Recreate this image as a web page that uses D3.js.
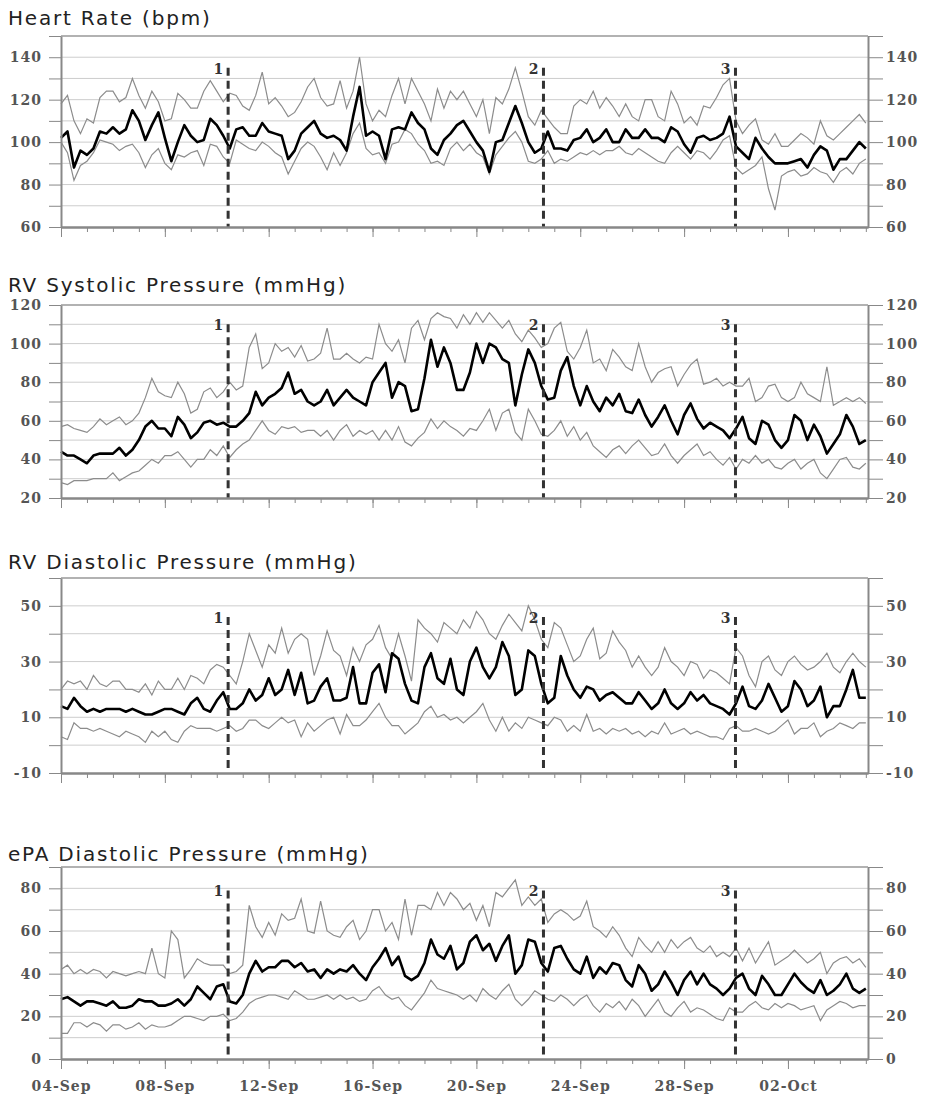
<!DOCTYPE html>
<html>
<head>
<meta charset="utf-8">
<script src="https://cdn.jsdelivr.net/npm/d3@7"></script>
<style>
    body { margin: 0; background: #fff; }
    .title { font-family: "DejaVu Sans", Verdana, sans-serif; font-size: 20px; fill: #222; letter-spacing: 1.8px; }
    .axis text { font-family: "DejaVu Serif", serif; font-weight: bold; font-size: 14px; fill: #555; letter-spacing: 1px; }
    .axis path, .axis line { stroke: #888; }
    .axis path { stroke-width: 2px; }
    .grid line { stroke: #cdcdcd; stroke-width: 1px; }
    .band { fill: none; stroke: #8c8c8c; stroke-width: 1.2px; }
    .median { fill: none; stroke: #000; stroke-width: 2.6px; stroke-linejoin: round; }
    .marker { stroke: #333; stroke-width: 3px; stroke-dasharray: 8,5; }
    .marker-label { font-family: "DejaVu Serif", serif; font-weight: bold; font-size: 14px; fill: #333; }
</style>
</head>
<body>
<div id="chart"></div>
<script>

// sampling of all series: every 6 hours from 04-Sep
const startDate = "2009-09-04 00:00";
const endDate = "2009-10-05 02:00";
const stepHours = 6;

// event markers
const markerDates = ["2009-09-10 10:30", "2009-09-22 14:00", "2009-09-29 23:30"];
const markerLabels = ["1", "2", "3"];

// panel titles
const panelTitles = ["Heart Rate (bpm)", "RV Systolic Pressure (mmHg)", "RV Diastolic Pressure (mmHg)", "ePA Diastolic Pressure (mmHg)"];

// heart rate
const hrUpper = [118,122,110,104,111,109,121,124,124,119, 121,130,122,116,124,119,110,111,123,120,
    116,116,124,129,124,119,123,122,117,115, 122,133,118,121,117,112,114,119,126,130,
    121,117,118,129,116,124,140,118,110,115, 112,122,130,118,130,124,118,110,125,116, 124,
    120,124,118,112,120,104,121,118,125, 135,124,112,108,115,111,107,104,104,117,
    120,118,124,116,121,117,112,118,112,110, 120,120,112,110,124,118,109,112,108,117,
    116,121,127,130,110,104,108,111,101,99, 104,98,98,101,104,102,99,110,103,101, 104,107,110,113,109];
const hrMedian = [102,105,88,96,94,97,105,104,107,104, 106,115,110,101,108,114,102,91,100,108,
    103,100,101,111,108,103,97,106,107,103, 103,109,105,104,103,92,96,104,107,110,
    104,102,103,101,96,112,126,103,105,103, 92,106,107,106,114,109,106,97,94,101, 104,
    108,110,105,100,96,86,100,101,109, 117,109,100,95,97,105,97,97,96,101,
    102,106,100,102,106,100,100,106,102,102, 106,102,102,100,107,105,99,95,102,103,
    101,102,104,112,98,95,92,102,97,93, 90,90,90,91,92,88,94,98,96,87, 92,92,96,100,97];
const hrLower = [100,95,82,89,91,95,101,100,99,96, 98,99,95,88,94,97,90,87,94,93,
    95,96,89,99,98,93,90,101,99,97, 96,100,98,95,93,85,91,97,100,98,
    93,87,95,89,95,104,109,97,94,95, 90,99,100,106,104,99,96,90,91,89, 97,
    100,96,99,95,93,85,94,98,102, 105,100,91,90,92,96,90,92,91,93,
    95,94,96,94,96,96,98,95,94,97, 95,93,91,90,95,98,95,92,96,95,
    92,96,101,103,88,85,87,89,93,78, 68,84,86,87,84,85,88,86,85,81, 86,88,85,90,92];

// rv systolic pressure
const rvsUpper = [57,58,56,55,54,57,61,58,60,62, 58,60,64,72,82,75,73,72,80,74,
    64,66,75,77,72,75,80,76,78,98, 105,87,90,100,96,98,93,99,91,92,
    95,108,92,92,95,92,90,93,92,110, 100,96,102,90,108,112,102,113,116,114, 113,
    108,115,110,116,111,116,112,108,112, 105,101,107,103,98,100,108,111,96,92,
    98,107,90,92,86,97,93,88,86,100, 88,80,85,87,88,78,84,89,92,79,
    80,82,78,80,78,78,82,70,72,78, 79,72,70,72,80,74,72,70,88,68, 70,72,70,72,69];
const rvsMedian = [44,42,42,40,38,42,43,43,43,46, 42,45,50,57,60,56,56,52,62,58,
    51,54,59,60,58,59,57,57,60,64, 75,68,72,74,77,85,74,76,70,68,
    70,76,68,72,76,72,70,68,80,85, 90,72,80,78,65,66,82,102,88,98, 90,
    76,76,85,100,90,100,98,92,90, 68,84,97,90,78,71,72,86,93,78,
    68,78,70,65,72,68,74,65,64,71, 63,57,62,68,60,53,63,69,61,56,
    59,57,55,51,56,62,51,48,60,58, 50,46,50,63,60,50,58,52,43,48, 53,63,57,48,50];
const rvsLower = [28,27,29,29,29,30,30,30,33,29, 31,33,34,37,40,38,42,42,44,40,
    36,40,40,45,42,47,41,45,48,50, 55,60,55,53,57,56,57,54,55,55,
    52,55,50,55,58,52,55,53,55,50, 55,50,57,49,47,51,54,61,56,60, 57,
    55,52,56,55,60,66,55,64,66, 54,50,66,60,53,52,55,60,52,57,
    50,54,47,44,41,45,47,43,47,50, 46,42,43,48,42,38,42,45,48,42,
    44,40,37,41,35,40,38,42,38,40, 36,35,38,40,35,38,40,33,30,35, 40,41,36,35,38];

// rv diastolic pressure
const rvdUpper = [20,23,22,23,20,25,22,21,23,23, 20,20,19,22,18,23,20,20,24,20,
    25,24,22,27,29,28,25,22,30,40, 34,28,36,33,42,33,38,40,38,25,
    32,41,34,32,25,35,30,36,38,43, 35,31,40,32,23,45,42,40,37,44, 42,
    40,45,42,48,45,40,38,43,47, 44,41,50,45,38,35,44,42,36,30,
    32,38,42,31,33,41,37,34,28,32, 28,25,28,35,30,28,25,30,29,24,
    27,26,24,22,35,32,25,21,30,32, 27,25,30,32,29,27,28,30,33,28, 26,30,33,30,28];
const rvdMedian = [14,13,17,14,12,13,12,13,13,13, 12,13,12,11,11,12,13,13,12,11,
    15,17,13,12,16,19,13,13,15,20, 16,18,24,18,20,27,18,26,15,16,
    21,24,16,16,17,28,15,15,26,29, 19,33,31,22,16,15,28,33,24,22, 31,
    20,18,30,35,28,24,28,37,32, 18,20,34,32,22,15,17,32,25,20,
    17,21,20,16,18,19,17,15,15,19, 16,13,15,20,15,13,15,19,16,18,
    15,14,13,11,15,21,14,13,16,22, 17,12,14,23,20,14,16,21,10,14, 14,20,27,17,17];
const rvdLower = [3,2,8,6,6,5,6,5,4,3, 5,4,3,1,5,3,5,2,1,5,
    7,6,6,6,5,6,7,5,6,9, 9,7,6,8,10,8,9,3,8,5,
    7,9,10,4,11,7,7,9,12,15, 10,7,7,4,6,8,12,14,10,11, 9,
    10,8,10,12,15,9,5,10,5, 8,6,10,9,8,7,10,9,5,7,
    5,11,5,6,4,6,5,6,4,5, 3,5,4,8,4,5,6,4,5,4,
    3,3,2,6,7,5,5,6,5,4, 5,7,9,4,6,6,8,3,5,6, 8,7,6,8,8];

// epa diastolic pressure
const epaUpper = [42,44,40,42,40,42,41,38,41,40, 39,40,41,40,52,40,38,60,56,38,
    42,47,45,44,44,44,40,41,44,72, 62,57,64,58,68,65,66,75,60,59,
    74,60,58,57,62,65,56,60,70,70, 60,64,56,75,58,72,72,70,78,72, 78,
    75,70,73,65,72,62,78,76,80, 84,72,76,72,75,64,68,70,68,65,
    67,74,62,60,57,62,58,52,48,57, 53,50,55,50,56,52,55,57,52,50,
    53,48,50,48,52,46,52,45,50,55, 44,46,48,51,48,45,47,50,40,45, 47,48,45,47,43];
const epaMedian = [28,29,27,25,27,27,26,25,27,24, 24,25,28,27,27,25,25,26,28,25,
    28,34,31,28,34,35,27,26,30,40, 46,41,43,43,46,46,43,45,41,42,
    38,42,40,42,41,44,40,37,43,47, 52,44,48,39,37,39,45,56,49,47, 53,
    42,45,55,58,51,54,46,53,58, 40,44,56,55,45,41,52,53,47,42,
    40,48,38,43,40,45,44,37,34,44, 40,32,35,41,36,30,37,41,35,40,
    35,33,30,33,38,40,33,30,39,35, 30,30,35,40,36,33,31,37,30,32, 35,40,33,31,33];
const epaLower = [12,12,17,17,15,17,16,13,16,16, 14,15,17,14,16,15,15,16,18,20,
    20,19,18,20,20,21,18,19,22,26, 28,29,30,30,29,28,32,30,28,28,
    29,30,28,30,28,29,27,28,32,34, 30,28,29,25,23,27,31,37,33,32, 31,
    30,28,30,27,33,30,28,32,35, 28,25,28,32,30,28,27,30,28,25,
    28,30,25,22,26,24,27,23,28,25, 20,24,28,22,20,24,27,22,24,23,
    21,19,18,24,22,22,25,27,24,23, 26,24,26,25,23,24,25,18,23,25, 27,26,24,25,25];

const parseTime = d3.timeParse("%Y-%m-%d %H:%M");
const formatDay = d3.timeFormat("%d-%b");


/* * * * * * * * * * * * * *
*        TrendPanel        *
* * * * * * * * * * * * * */

class TrendPanel {

    constructor(svg, config) {
        this.svg = svg;
        this.config = config;
        this.initVis();
    }

    initVis() {
        let vis = this;
        let c = vis.config;

        vis.left = 61;
        vis.right = 868;
        vis.height = c.bottom - c.top;

        vis.g = vis.svg.append("g")
            .attr("transform", "translate(0," + c.top + ")");

        vis.x = d3.scaleTime()
            .domain([parseTime(startDate), parseTime(endDate)])
            .range([vis.left, vis.right]);

        vis.y = d3.scaleLinear()
            .domain(c.yDomain)
            .range([vis.height, 0]);

        // title
        vis.svg.append("text")
            .attr("class", "title")
            .attr("x", 8)
            .attr("y", c.titleY)
            .text(c.title);

        // horizontal gridlines every 10
        vis.g.append("g")
            .attr("class", "grid")
            .selectAll("line")
            .data(d3.range(c.yDomain[0] + 10, c.yDomain[1], 10))
            .join("line")
            .attr("x1", vis.left)
            .attr("x2", vis.right)
            .attr("y1", d => vis.y(d))
            .attr("y2", d => vis.y(d));

        // top border
        vis.g.append("line")
            .attr("x1", vis.left)
            .attr("x2", vis.right)
            .attr("y1", 0)
            .attr("y2", 0)
            .attr("stroke", "#999")
            .attr("stroke-width", 1.5);

        vis.lineGroup = vis.g.append("g");
        vis.markerGroup = vis.g.append("g");

        let yTicks = d3.range(c.yDomain[0], c.yDomain[1] + 1, 10);
        let yFormat = d => ((d - c.yDomain[0]) % 20 === 0 ? d : "");

        // left + right axes
        vis.g.append("g")
            .attr("class", "axis")
            .attr("transform", "translate(" + vis.left + ",0)")
            .call(d3.axisLeft(vis.y).tickValues(yTicks).tickFormat(yFormat)
                .tickSize(12).tickSizeOuter(0).tickPadding(7));

        vis.g.append("g")
            .attr("class", "axis")
            .attr("transform", "translate(" + vis.right + ",0)")
            .call(d3.axisRight(vis.y).tickValues(yTicks).tickFormat(yFormat)
                .tickSize(15).tickSizeOuter(0).tickPadding(3));

        // x axis: a tick per day, longer ticks every 4 days
        let start = parseTime(startDate);
        let stop = parseTime(endDate);

        vis.g.append("g")
            .attr("class", "axis")
            .attr("transform", "translate(0," + vis.height + ")")
            .call(d3.axisBottom(vis.x).tickValues(d3.timeDay.range(start, stop))
                .tickFormat("").tickSize(5).tickSizeOuter(0));

        vis.g.append("g")
            .attr("class", "axis")
            .attr("transform", "translate(0," + vis.height + ")")
            .call(d3.axisBottom(vis.x).tickValues(d3.timeDay.range(start, stop, 4))
                .tickFormat(c.showDates ? formatDay : "")
                .tickSize(10).tickSizeOuter(0).tickPadding(12));

        vis.wrangleData();
    }

    wrangleData() {
        let vis = this;
        let c = vis.config;
        let start = parseTime(startDate);

        let toPoints = arr => arr.map((v, i) => ({
            date: d3.timeHour.offset(start, i * stepHours),
            value: v
        }));

        vis.displayData = [
            { cls: "band", points: toPoints(c.upper) },
            { cls: "band", points: toPoints(c.lower) },
            { cls: "median", points: toPoints(c.median) }
        ];

        vis.markers = markerDates.map((d, i) => ({ date: parseTime(d), label: markerLabels[i] }));

        vis.updateVis();
    }

    updateVis() {
        let vis = this;

        let line = d3.line()
            .x(d => vis.x(d.date))
            .y(d => vis.y(d.value));

        vis.lineGroup.selectAll("path")
            .data(vis.displayData)
            .join("path")
            .attr("class", d => d.cls)
            .attr("d", d => line(d.points));

        // dashed event markers
        let yTop = vis.y(vis.config.markerTop);

        vis.markerGroup.selectAll("line")
            .data(vis.markers)
            .join("line")
            .attr("class", "marker")
            .attr("x1", d => vis.x(d.date))
            .attr("x2", d => vis.x(d.date))
            .attr("y1", yTop)
            .attr("y2", vis.height);

        vis.markerGroup.selectAll("text")
            .data(vis.markers)
            .join("text")
            .attr("class", "marker-label")
            .attr("x", d => vis.x(d.date) - 5)
            .attr("y", yTop + 6)
            .attr("text-anchor", "end")
            .text(d => d.label);
    }
}


let svg = d3.select("#chart").append("svg")
    .attr("width", 926)
    .attr("height", 1099)
    .style("background", "#fff");

let panels = [
    { title: panelTitles[0], titleY: 25, top: 36, bottom: 227, yDomain: [60, 150], markerTop: 135,
      upper: hrUpper, median: hrMedian, lower: hrLower, showDates: false },
    { title: panelTitles[1], titleY: 292, top: 305, bottom: 498, yDomain: [20, 120], markerTop: 110,
      upper: rvsUpper, median: rvsMedian, lower: rvsLower, showDates: false },
    { title: panelTitles[2], titleY: 569, top: 578, bottom: 773, yDomain: [-10, 60], markerTop: 46,
      upper: rvdUpper, median: rvdMedian, lower: rvdLower, showDates: false },
    { title: panelTitles[3], titleY: 861, top: 867, bottom: 1059, yDomain: [0, 90], markerTop: 79,
      upper: epaUpper, median: epaMedian, lower: epaLower, showDates: true }
];

panels.forEach(p => new TrendPanel(svg, p));

</script>
</body>
</html>
